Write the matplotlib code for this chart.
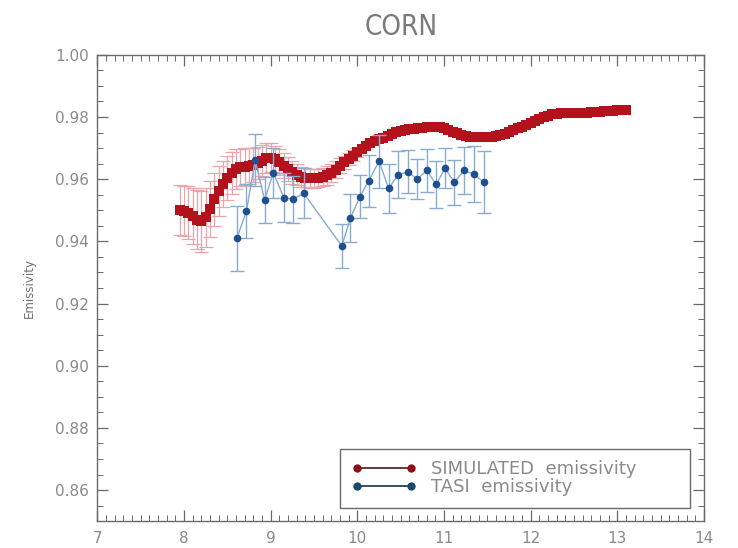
import matplotlib
matplotlib.use("Agg")
import matplotlib.pyplot as plt
from matplotlib.ticker import MultipleLocator
from matplotlib.lines import Line2D

# Simulated emissivity spectrum (wavelength in micrometres)
sim_wavelength = [
    7.95, 8.00, 8.05, 8.10, 8.15, 8.20, 8.25, 8.30, 8.35, 8.40, 8.45, 8.50, 8.55, 8.60,
    8.65, 8.70, 8.75, 8.80, 8.85, 8.90, 8.95, 9.00, 9.05, 9.10, 9.15, 9.20, 9.25, 9.30,
    9.35, 9.40, 9.45, 9.50, 9.55, 9.60, 9.65, 9.70, 9.75, 9.80, 9.85, 9.90, 9.95, 10.00,
    10.05, 10.10, 10.15, 10.20, 10.25, 10.30, 10.35, 10.40, 10.45, 10.50, 10.55, 10.60,
    10.65, 10.70, 10.75, 10.80, 10.85, 10.90, 10.95, 11.00, 11.05, 11.10, 11.15, 11.20,
    11.25, 11.30, 11.35, 11.40, 11.45, 11.50, 11.55, 11.60, 11.65, 11.70, 11.75, 11.80,
    11.85, 11.90, 11.95, 12.00, 12.05, 12.10, 12.15, 12.20, 12.25, 12.30, 12.35, 12.40,
    12.45, 12.50, 12.55, 12.60, 12.65, 12.70, 12.75, 12.80, 12.85, 12.90, 12.95, 13.00,
    13.05, 13.10,
]
sim_emissivity = [
    0.9500, 0.9498, 0.9492, 0.9482, 0.9470, 0.9465, 0.9478, 0.9505, 0.9535, 0.9562,
    0.9585, 0.9603, 0.9620, 0.9632, 0.9638, 0.9640, 0.9641, 0.9645, 0.9652, 0.9660,
    0.9667, 0.9669, 0.9664, 0.9655, 0.9643, 0.9632, 0.9622, 0.9614, 0.9608, 0.9605,
    0.9603, 0.9603, 0.9604, 0.9607, 0.9612, 0.9620, 0.9631, 0.9643, 0.9654, 0.9665,
    0.9676, 0.9686, 0.9696, 0.9706, 0.9715, 0.9722, 0.9728, 0.9733, 0.9739, 0.9745,
    0.9751, 0.9755, 0.9758, 0.9760, 0.9762, 0.9764, 0.9766, 0.9767, 0.9768, 0.9768,
    0.9767, 0.9764, 0.9759, 0.9753, 0.9747, 0.9742, 0.9739, 0.9737, 0.9736, 0.9735,
    0.9735, 0.9736, 0.9737, 0.9739, 0.9742, 0.9746, 0.9751, 0.9757, 0.9763, 0.9769,
    0.9775, 0.9781, 0.9787, 0.9793, 0.9799, 0.9804, 0.9808, 0.9811, 0.9812, 0.9813,
    0.9813, 0.9813, 0.9813, 0.9814, 0.9814, 0.9815, 0.9816, 0.9817, 0.9818, 0.9819,
    0.9820, 0.9821, 0.9822, 0.9823,
]
# Standard deviation of the simulation (non-zero only in the short-wave part)
sim_error = [
    0.0080, 0.0080, 0.0085, 0.0090, 0.0095, 0.0098, 0.0095, 0.0090, 0.0085, 0.0080,
    0.0075, 0.0070, 0.0068, 0.0065, 0.0060, 0.0060, 0.0058, 0.0055, 0.0052, 0.0050,
    0.0048, 0.0046, 0.0044, 0.0042, 0.0040, 0.0038, 0.0036, 0.0034, 0.0032, 0.0030,
    0.0030, 0.0030, 0.0030, 0.0030, 0.0030, 0.0028, 0.0026, 0.0024, 0.0022, 0.0020,
    0.0018, 0.0015,
]

# TASI measured emissivity
tasi_wavelength = [
    8.61, 8.72, 8.82, 8.93, 9.03, 9.15, 9.26, 9.38, 9.82, 9.92, 10.03, 10.13,
    10.25, 10.36, 10.47, 10.58, 10.69, 10.80, 10.91, 11.01, 11.12, 11.23, 11.34, 11.46,
]
tasi_emissivity = [
    0.9410, 0.9498, 0.9661, 0.9533, 0.9621, 0.9541, 0.9535, 0.9555, 0.9385, 0.9475,
    0.9544, 0.9594, 0.9658, 0.9570, 0.9614, 0.9624, 0.9600, 0.9628, 0.9583, 0.9635,
    0.9590, 0.9628, 0.9616, 0.9590,
]
tasi_error = [
    0.0105, 0.0088, 0.0083, 0.0075, 0.0080, 0.0078, 0.0075, 0.0080, 0.0070, 0.0077,
    0.0070, 0.0085, 0.0085, 0.0080, 0.0075, 0.0070, 0.0065, 0.0070, 0.0075, 0.0065,
    0.0073, 0.0075, 0.0090, 0.0100,
]

x_ticks = [7, 8, 9, 10, 11, 12, 13, 14]
y_ticks = [0.86, 0.88, 0.90, 0.92, 0.94, 0.96, 0.98, 1.00]

TEXT = "#8a8a8a"
AXIS = "#6a6a6a"
SIM_RED = "#b3121c"
SIM_ERR = "#eba5a8"
TASI_DOT = "#1f4f8e"
TASI_LINE = "#86acd2"

plt.rcParams["font.family"] = ["DejaVu Sans"]

fig = plt.figure(figsize=(7.38, 5.48), dpi=100)
ax = fig.add_axes([0.132, 0.049, 0.822, 0.851])

n_err = len(sim_error)
ax.errorbar(sim_wavelength[:n_err], sim_emissivity[:n_err], yerr=sim_error,
            fmt="none", ecolor=SIM_ERR, elinewidth=0.9, capsize=5, capthick=0.9,
            zorder=1)
ax.plot(sim_wavelength, sim_emissivity, color=SIM_RED, lw=3.0, marker="s",
        markersize=6.5, markeredgewidth=0, zorder=2)

ax.errorbar(tasi_wavelength, tasi_emissivity, yerr=tasi_error, fmt="none",
            ecolor=TASI_LINE, elinewidth=1.0, capsize=5, capthick=1.0, zorder=3)
ax.plot(tasi_wavelength, tasi_emissivity, color=TASI_LINE, lw=1.0, zorder=3)
ax.plot(tasi_wavelength, tasi_emissivity, linestyle="none", marker="o",
        markersize=5.5, color=TASI_DOT, markeredgewidth=0, zorder=4)

ax.set_xlim(7, 14)
ax.set_ylim(0.85, 1.00)
ax.set_xticks(x_ticks)
ax.set_yticks(y_ticks)
ax.set_xticklabels([str(v) for v in x_ticks])
ax.set_yticklabels([f"{v:.2f}" for v in y_ticks])
ax.xaxis.set_minor_locator(MultipleLocator(0.1))
ax.yaxis.set_minor_locator(MultipleLocator(0.005))
ax.tick_params(which="both", direction="in", top=True, right=True,
               color=AXIS, labelcolor=TEXT, labelsize=11)
ax.tick_params(which="major", length=8, width=0.9)
ax.tick_params(which="minor", length=4, width=0.7)
ax.tick_params(axis="x", pad=7)
ax.tick_params(axis="y", pad=6)
for s in ax.spines.values():
    s.set_color(AXIS)
    s.set_linewidth(1.0)

ax.set_ylabel("Emissivity", fontsize=8.5, color="#707070", labelpad=14)
ax.set_title("CORN", fontsize=20, fontstretch="condensed", color="#7a7a7a",
             pad=14)

# Legend: dot-line-dot handles in the lower-right corner
handles = [
    Line2D([], [], color="#4a1a1a", lw=1.2, marker="o", markersize=6,
           markerfacecolor="#8e1019", markeredgewidth=0),
    Line2D([], [], color="#1a2f40", lw=1.2, marker="o", markersize=6,
           markerfacecolor="#1b4a6a", markeredgewidth=0),
]
leg = ax.legend(handles, ["SIMULATED  emissivity", "TASI  emissivity"],
                loc="lower left", bbox_to_anchor=(0.40, 0.028, 0.577, 0.12),
                mode="expand", numpoints=2, handlelength=3.6, fontsize=13,
                labelspacing=0.0, borderpad=0.65, handletextpad=0.8,
                borderaxespad=0.0,
                fancybox=False, framealpha=1, edgecolor=AXIS)
leg.get_frame().set_linewidth(1.0)
for t in leg.get_texts():
    t.set_color(TEXT)

fig.savefig("out.png", dpi=100)
